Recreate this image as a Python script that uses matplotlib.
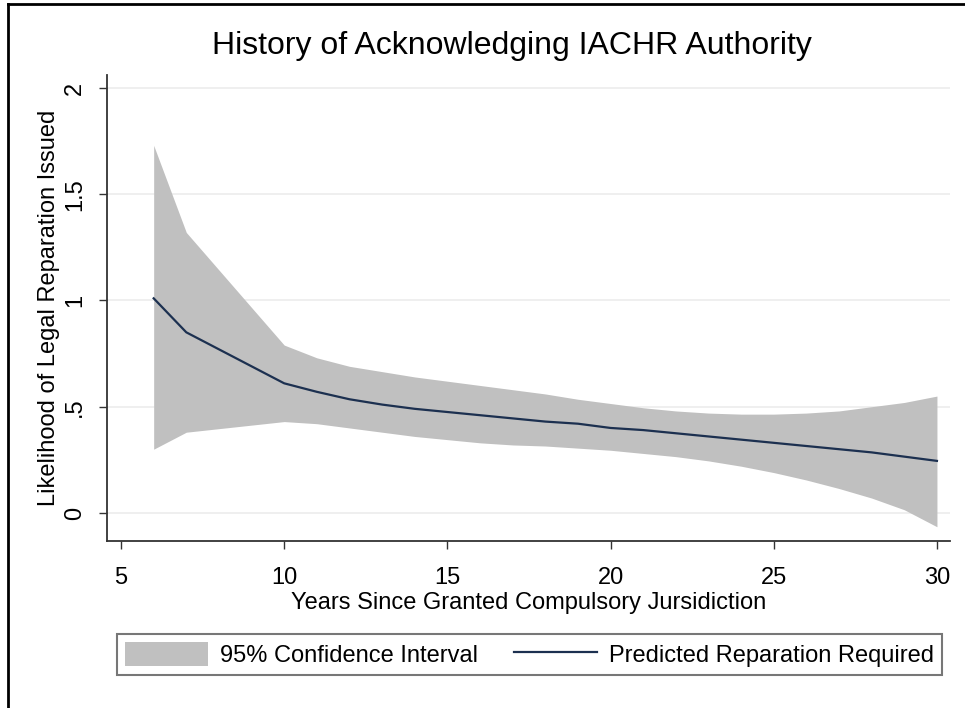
import matplotlib
matplotlib.use("Agg")
import matplotlib.pyplot as plt
from matplotlib.lines import Line2D

# ---------------------------------------------------------------------------
# Data
# ---------------------------------------------------------------------------
years = [6, 7, 10, 11, 12, 13, 14, 15, 16, 17, 18, 19, 20,
         21, 22, 23, 24, 25, 26, 27, 28, 29, 30]
predicted = [1.01, 0.85, 0.61, 0.57, 0.535, 0.51, 0.49, 0.475, 0.46, 0.445,
             0.43, 0.42, 0.40, 0.39, 0.375, 0.36, 0.345, 0.33, 0.315, 0.30,
             0.285, 0.265, 0.245]
ci_upper = [1.73, 1.32, 0.79, 0.73, 0.69, 0.665, 0.64, 0.62, 0.60, 0.58,
            0.56, 0.535, 0.515, 0.495, 0.48, 0.47, 0.465, 0.465, 0.47, 0.48,
            0.50, 0.52, 0.55]
ci_lower = [0.30, 0.38, 0.43, 0.42, 0.40, 0.38, 0.36, 0.345, 0.33, 0.32,
            0.315, 0.305, 0.295, 0.28, 0.265, 0.245, 0.22, 0.19, 0.155, 0.115,
            0.07, 0.015, -0.065]

x_ticks = [5, 10, 15, 20, 25, 30]
y_ticks = [0, 0.5, 1, 1.5, 2]
y_tick_labels = ["0", ".5", "1", "1.5", "2"]

plt.rcParams["font.family"] = ["Liberation Sans", "DejaVu Sans"]

W, H = 965, 708
fig = plt.figure(figsize=(W / 100, H / 100), dpi=100)
ax = fig.add_axes([107 / W, 1 - 541 / H, (950 - 107) / W, (541 - 75) / H])

band = ax.fill_between(years, ci_lower, ci_upper, color="#c0c0c0",
                       linewidth=0, label="95% Confidence Interval")
line, = ax.plot(years, predicted, color="#1c3050", lw=1.6,
                label="Predicted Reparation Required")

ax.set_xlim(4.57, 30.4)
ax.set_ylim(-0.132, 2.061)
ax.set_xticks(x_ticks)
ax.set_yticks(y_ticks)
ax.set_yticklabels(y_tick_labels, rotation=90, va="center")
ax.tick_params(labelsize=17, length=6, width=1, color="#333333", pad=9)
ax.tick_params(axis="x", pad=13)

ax.grid(axis="y", color="#ececec", lw=1.2)
ax.set_axisbelow(True)
for side in ["top", "right"]:
    ax.spines[side].set_visible(False)
for side in ["left", "bottom"]:
    ax.spines[side].set_linewidth(1.3)
    ax.spines[side].set_color("#333333")

ax.set_xlabel("Years Since Granted Compulsory Jursidiction", fontsize=17,
              labelpad=2)
ax.set_ylabel("Likelihood of Legal Reparation Issued", fontsize=17,
              labelpad=3)

fig.text(0.53, 1 - 46 / H, "History of Acknowledging IACHR Authority",
         fontsize=23, ha="center", va="center")

# ---- legend box ------------------------------------------------------------
leg = fig.legend(handles=[band, line], loc="center", ncol=2, mode="expand",
                 bbox_to_anchor=(117 / W, 1 - 677 / H, (942 - 117) / W, 45 / H),
                 fontsize=17, frameon=True, fancybox=False,
                 handlelength=3.5, handleheight=1.2, handletextpad=0.5,
                 columnspacing=1.4, borderpad=0.35, borderaxespad=0)
leg.get_frame().set_edgecolor("#555555")
leg.get_frame().set_linewidth(1.5)

# ---- outer border (top and left edges only visible) -------------------------
fig.add_artist(Line2D([8 / W, 1], [1 - 4 / H, 1 - 4 / H],
                      transform=fig.transFigure, color="black", lw=2))
fig.add_artist(Line2D([8 / W, 8 / W], [0, 1 - 4 / H],
                      transform=fig.transFigure, color="black", lw=2))

fig.savefig("out.png", dpi=100)
